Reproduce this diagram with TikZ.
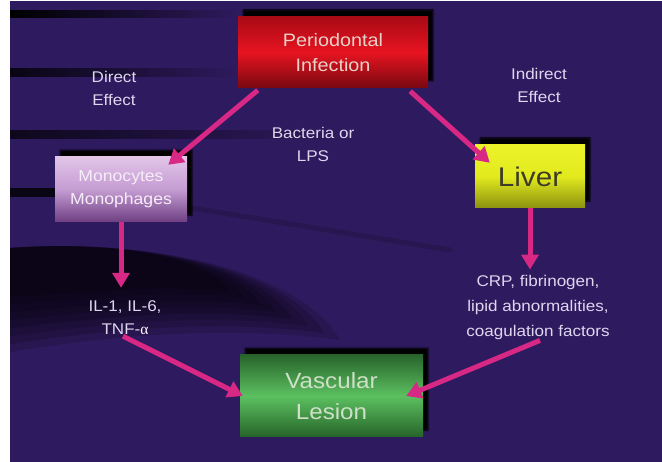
\documentclass[tikz,border=0pt]{standalone}
\usepackage{fontspec}
\setmainfont{Liberation Sans}[FakeStretch=1.1]
\newfontfamily\alphafont{Liberation Serif}
\usepackage{tikz}
\usetikzlibrary{arrows.meta, positioning, calc, shadows.blur}

\definecolor{slidebg}{RGB}{46,26,94}
\definecolor{flowpink}{RGB}{214,40,132}
\definecolor{labeltext}{RGB}{222,214,238}

\begin{document}
\begin{tikzpicture}[x=1pt, y=-1pt,
	box/.style={inner sep=0pt, align=center, blur shadow={shadow xshift=5pt, shadow yshift=7pt, shadow opacity=100, shadow blur radius=1.5pt, shadow blur steps=4}},
	note/.style={align=center, text=labeltext, font=\fontsize{15.5}{23}\selectfont, inner sep=1pt},
	flow/.style={line width=5pt, draw=flowpink, -{Triangle[width=17pt, length=15pt]}}]

	% frame and background
	\useasboundingbox (0,0) rectangle (662,462);
	\fill[white] (0,0) rectangle (662,462);
	\fill[slidebg] (10,1) rectangle (662,462);

	% dark streaks
	\shade[left color=black, right color=slidebg] (10,11) rectangle (240,18);
	\shade[left color=black!80!slidebg, right color=slidebg] (10,69) rectangle (240,77);
	\shade[left color=black!70!slidebg, right color=slidebg] (10,131) rectangle (340,139);
	\fill[black!80!slidebg] (10,188) rectangle (56,197);
	\draw[black, opacity=.15, line width=5pt, line cap=round] (192,208) -- (450,250);
	\foreach \i in {0,...,7}
		\fill[black, opacity=.15] (10,248) .. controls (150,238) and ({300-12*\i},270) .. ({340-16*\i},{340-7*\i}) .. controls ({230-12*\i},{325-6*\i}) and (110,{335-6*\i}) .. (10,{352-8*\i}) -- cycle;

	% boxes
	\node[box, minimum width=190pt, minimum height=71pt, top color={rgb,255:red,170;green,10;blue,22}, bottom color={rgb,255:red,120;green,8;blue,16}, middle color={rgb,255:red,230;green,20;blue,32}, text={rgb,255:red,232;green,210;blue,200}, font=\fontsize{18}{25}\selectfont] (perio) at (333,52.5) {Periodontal\\Infection};
	\node[box, minimum width=132pt, minimum height=65pt, top color={rgb,255:red,226;green,196;blue,232}, bottom color={rgb,255:red,110;green,62;blue,130}, middle color={rgb,255:red,196;green,156;blue,210}, text={rgb,255:red,246;green,236;blue,248}, font=\fontsize{16}{23}\selectfont] (mono) at (121,189.5) {Monocytes\\Monophages};
	\node[box, minimum width=110pt, minimum height=63pt, top color={rgb,255:red,236;green,242;blue,40}, bottom color={rgb,255:red,140;green,146;blue,16}, middle color={rgb,255:red,226;green,234;blue,30}, text={rgb,255:red,60;green,60;blue,40}, font=\fontsize{27}{30}\selectfont] (liver) at (530,176.5) {Liver};
	\node[box, minimum width=183pt, minimum height=82pt, top color={rgb,255:red,40;green,100;blue,44}, bottom color={rgb,255:red,38;green,100;blue,42}, middle color={rgb,255:red,92;green,192;blue,96}, text={rgb,255:red,207;green,224;blue,200}, font=\fontsize{22}{31}\selectfont] (vasc) at (331.5,396) {Vascular\\Lesion};

	% labels
	\node[note] (direct) at (114,88) {Direct\\Effect};
	\node[note] (indirect) at (539,85) {Indirect\\Effect};
	\node[note] (bacteria) at (313,144) {Bacteria or\\LPS};
	\node[note] (cytokines) at (125,318) {IL-1, IL-6,\\TNF-{\alphafont\color{white}α}};
	\node[note, font=\fontsize{15.5}{25}\selectfont] (markers) at (538,307) {CRP, fibrinogen,\\lipid abnormalities,\\coagulation factors};

	% arrows
	\draw[flow] ([xshift=20pt,yshift=-2pt]perio.south west) -- ([xshift=-19pt,yshift=-8pt]mono.north east);
	\draw[flow] ([xshift=-18pt,yshift=-3pt]perio.south east) -- ([xshift=15pt,yshift=-18pt]liver.north west);
	\draw[flow, shorten >=12pt] (mono.south) -- (mono.south |- cytokines.north);
	\draw[flow, shorten >=4pt] (liver.south) -- (liver.south |- markers.north);
	\draw[flow] ([xshift=-2pt]cytokines.south) -- ([xshift=3pt]vasc.west);
	\draw[flow] ([xshift=2pt]markers.south) -- ([xshift=-17pt]vasc.east);
\end{tikzpicture}
\end{document}
